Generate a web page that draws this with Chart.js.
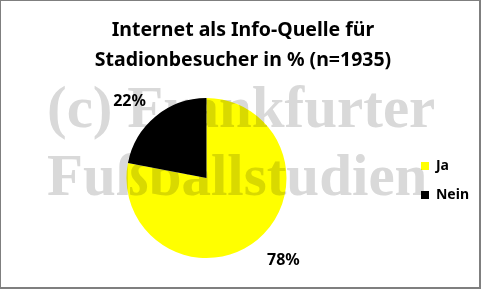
<!DOCTYPE html>
<html>
<head>
<meta charset="utf-8">
<script src="https://cdn.jsdelivr.net/npm/chart.js@4"></script>
<style>
  body { margin: 0; background: #fff; }
  #wrap {
    width: 481px; height: 289px; box-sizing: border-box;
    border-style: solid; border-color: #7f7f7f;
    border-width: 1px 2px 2px 1px;
    background: #fff;
  }
</style>
</head>
<body>
<div id="wrap"><canvas id="pieChart" width="478" height="286"></canvas></div>
<script>
// data
const labels = ['Ja', 'Nein'];
const values = [78, 22];
const sliceColors = ['#ffff00', '#000000'];
const titleLines = ['Internet als Info-Quelle für', 'Stadionbesucher in % (n=1935)'];
const watermarkLines = ['(c) Frankfurter', 'Fußballstudien'];

// percent labels outside the slices
const pctLabels = {
    id: 'pctLabels',
    afterDatasetsDraw(chart) {
        const ctx = chart.ctx;
        const meta = chart.getDatasetMeta(0);
        ctx.save();
        ctx.font = 'bold 16px "Noto Sans"';
        ctx.fillStyle = '#000';
        ctx.textAlign = 'center';
        ctx.textBaseline = 'middle';
        meta.data.forEach((arc, i) => {
            const mid = (arc.startAngle + arc.endAngle) / 2 - 0.08;
            const r = arc.outerRadius * 1.38;
            ctx.fillText(values[i] + '%', arc.x + Math.cos(mid) * r, arc.y + Math.sin(mid) * r + 3);
        });
        ctx.restore();
    }
};

// grey copyright watermark on top (multiplied so black stays black)
const watermark = {
    id: 'watermark',
    afterDraw(chart) {
        const ctx = chart.ctx;
        ctx.save();
        ctx.globalCompositeOperation = 'multiply';
        ctx.fillStyle = '#d9d9d9';
        ctx.font = 'bold 59px "Liberation Serif"';
        ctx.textAlign = 'left';
        ctx.textBaseline = 'alphabetic';
        ctx.fillText(watermarkLines[0], 46, 126);
        ctx.fillText(watermarkLines[1], 46, 194);
        ctx.restore();
    }
};

new Chart(document.getElementById('pieChart'), {
    type: 'pie',
    data: {
        labels: labels,
        datasets: [{
            data: values,
            backgroundColor: sliceColors,
            borderWidth: 0,
            radius: 80
        }]
    },
    options: {
        responsive: false,
        animation: false,
        layout: { padding: { left: 6, right: 0, top: 0, bottom: 7 } },
        plugins: {
            title: {
                display: true,
                text: titleLines,
                color: '#000',
                font: { family: 'Noto Sans', size: 19.5, weight: 'bold', lineHeight: 1.54 },
                padding: { top: 14, bottom: 1 }
            },
            legend: {
                position: 'right',
                title: {
                    display: true,
                    text: ' ',
                    font: { size: 10, lineHeight: 1 },
                    padding: { top: 70, bottom: 0 }
                },
                labels: {
                    color: '#000',
                    font: { family: 'Noto Sans', size: 14, weight: 'bold' },
                    boxWidth: 8,
                    boxHeight: 8,
                    padding: 15
                }
            },
            tooltip: { enabled: false }
        }
    },
    plugins: [pctLabels, watermark]
});
</script>
</body>
</html>
